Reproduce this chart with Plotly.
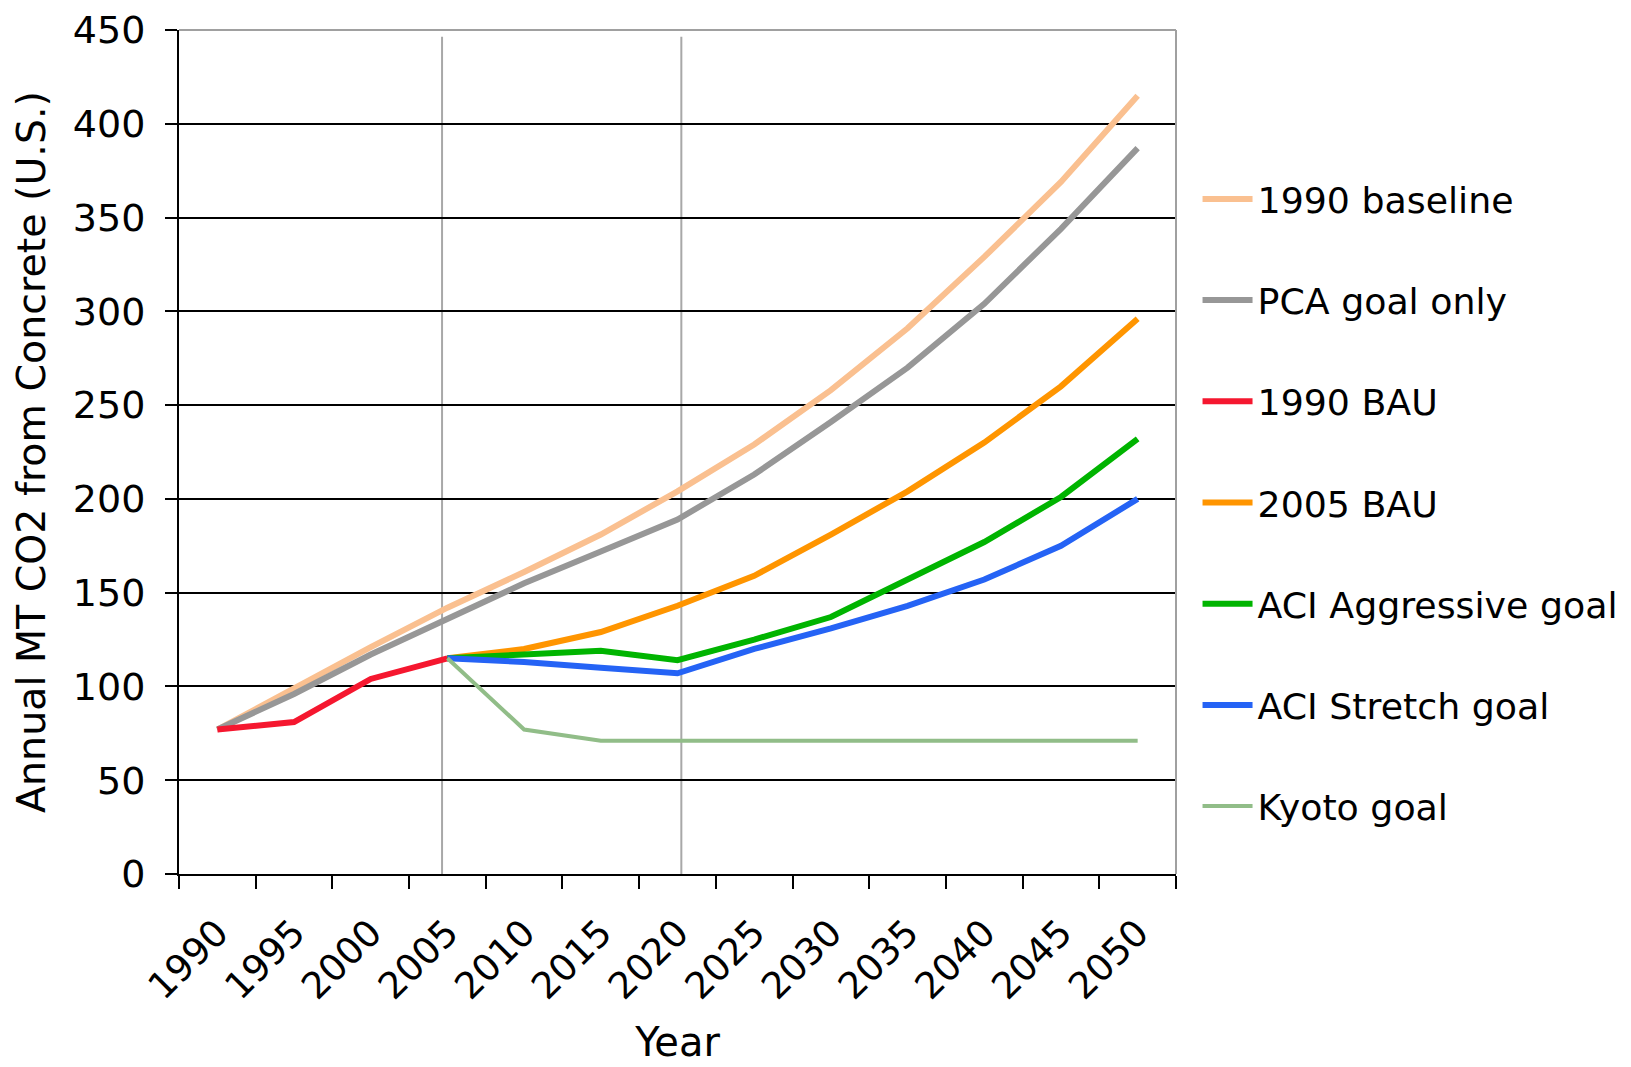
import plotly.graph_objects as go

years = ["1990", "1995", "2000", "2005", "2010", "2015", "2020",
         "2025", "2030", "2035", "2040", "2045", "2050"]

baseline_1990 = [77, 99, 121, 142, 161, 181, 204, 229, 258, 291, 329, 369, 415]
pca_goal_only = [77, 96, 117, 136, 155, 172, 189, 213, 241, 270, 304, 344, 387]
bau_1990 = [77, 81, 104, 115, None, None, None, None, None, None, None, None, None]
bau_2005 = [None, None, None, 115, 120, 129, 143, 159, 181, 204, 230, 260, 296]
aci_aggressive = [None, None, None, 115, 117, 119, 114, 125, 137, 157, 177, 201, 232]
aci_stretch = [None, None, None, 115, 113, 110, 107, 120, 131, 143, 157, 175, 200]
kyoto_goal = [None, None, None, 115, 77, 71, 71, 71, 71, 71, 71, 71, 71]

series = [
    ("1990 baseline", baseline_1990, "#FAC090", 6),
    ("PCA goal only", pca_goal_only, "#979797", 6),
    ("1990 BAU", bau_1990, "#F5172F", 6),
    ("2005 BAU", bau_2005, "#FF9500", 6),
    ("ACI Aggressive goal", aci_aggressive, "#00B400", 6),
    ("ACI Stretch goal", aci_stretch, "#2563F5", 6),
    ("Kyoto goal", kyoto_goal, "#91BD88", 4),
]

divider_years = ["2005", "2020"]
divider_offsets = [-0.07, 0.05]

FONT = "DejaVu Sans"

fig = go.Figure()
for i, (name, vals, color, w) in enumerate(series):
    fig.add_trace(go.Scatter(
        x=years, y=vals, name=name, mode="lines",
        line=dict(color=color, width=w),
        legendgroup=f"g{i}",
        connectgaps=False,
    ))

shapes = []
for yr, off in zip(divider_years, divider_offsets):
    xi = years.index(yr) + off
    shapes.append(dict(type="line", xref="x", yref="paper", x0=xi, x1=xi,
                       y0=0, y1=0.992, line=dict(color="#A8A8A8", width=2),
                       layer="below"))
# plot-area border (top and right) in gray
shapes.append(dict(type="line", xref="paper", yref="paper", x0=0, x1=1, y0=1, y1=1,
                   line=dict(color="#A0A0A0", width=2), layer="above"))
shapes.append(dict(type="line", xref="paper", yref="paper", x0=1, x1=1, y0=0, y1=1,
                   line=dict(color="#A0A0A0", width=2), layer="above"))

fig.update_layout(
    width=1623, height=1059,
    margin=dict(l=171, r=455, t=22, b=193, autoexpand=False),
    paper_bgcolor="white", plot_bgcolor="white",
    font=dict(family=FONT, color="black", size=34),
    shapes=shapes,
    showlegend=True,
    legend=dict(
        x=1.0216, xanchor="left", y=0.8355, yanchor="top",
        font=dict(family=FONT, size=36.3, color="black"),
        tracegroupgap=51, itemwidth=50,
        bgcolor="rgba(0,0,0,0)",
    ),
    xaxis=dict(
        type="category", categoryorder="array", categoryarray=years,
        range=[-0.5, len(years) - 0.5], automargin=False,
        tickson="boundaries", ticks="outside", ticklen=13, tickwidth=2,
        tickcolor="black", tickangle=-45, ticklabelstandoff=20,
        tickfont=dict(family=FONT, size=37, color="black"),
        showline=True, linecolor="black", linewidth=2,
        showgrid=False, zeroline=False,
        title=dict(text="Year", font=dict(family=FONT, size=40), standoff=21),
    ),
    yaxis=dict(
        range=[0, 450], dtick=50, tick0=0, automargin=False,
        ticks="outside", ticklen=12, tickwidth=2, tickcolor="black",
        ticklabelstandoff=12, ticklabeloverflow="allow",
        tickfont=dict(family=FONT, size=38, color="black"),
        showline=True, linecolor="black", linewidth=2,
        showgrid=True, gridcolor="black", gridwidth=2, zeroline=False,
        title=dict(text="Annual MT CO2 from Concrete (U.S.)",
                   font=dict(family=FONT, size=39.5), standoff=20),
    ),
)

fig.write_html("out.html")
